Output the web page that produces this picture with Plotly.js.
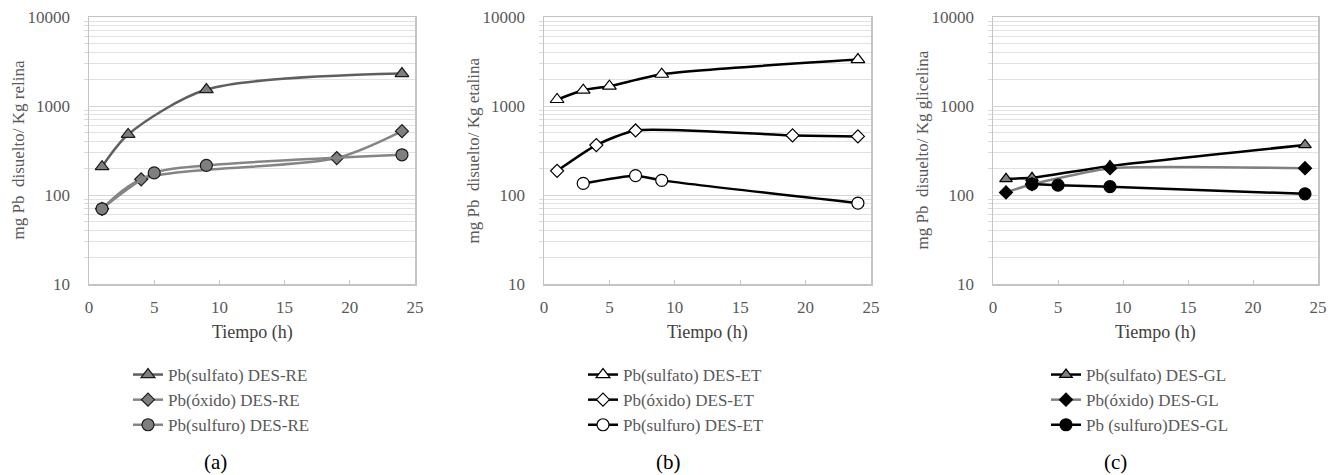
<!DOCTYPE html>
<html>
<head>
<meta charset="utf-8">
<script src="https://cdn.plot.ly/plotly-3.0.1.min.js"></script>
<style>html,body{margin:0;padding:0;background:#fff}#chart{width:1339px;height:475px}</style>
</head>
<body>
<div id="chart"></div>
<script>
// ---- data ----
// Panel (a) DES-RE
const reSulfatoX = [1, 3, 9, 24];
const reSulfatoY = [208, 479, 1531, 2314];
const reOxidoX = [1, 4, 19, 24];
const reOxidoY = [70, 150, 260, 522];
const reSulfuroX = [1, 5, 9, 24];
const reSulfuroY = [70, 177, 215, 283];
// Panel (b) DES-ET
const etSulfatoX = [1, 3, 5, 9, 24];
const etSulfatoY = [1183, 1506, 1669, 2275, 3325];
const etOxidoX = [1, 4, 7, 19, 24];
const etOxidoY = [187, 364, 531, 467, 455];
const etSulfuroX = [3, 7, 9, 24];
const etSulfuroY = [135, 165, 146, 81];
// Panel (c) DES-GL
const glSulfatoX = [1, 3, 9, 24];
const glSulfatoY = [152, 156, 212, 365];
const glOxidoX = [1, 3, 9, 24];
const glOxidoY = [107, 132, 200, 200];
const glSulfuroX = [3, 5, 9, 24];
const glSulfuroY = [133, 129, 124, 103];

const namesA = ['Pb(sulfato) DES-RE', 'Pb(óxido) DES-RE', 'Pb(sulfuro) DES-RE'];
const namesB = ['Pb(sulfato) DES-ET', 'Pb(óxido) DES-ET', 'Pb(sulfuro) DES-ET'];
const namesC = ['Pb(sulfato) DES-GL', 'Pb(óxido) DES-GL', 'Pb (sulfuro)DES-GL'];
const yTitles = ['mg Pb\u00a0 disuelto/ Kg relina', 'mg Pb\u00a0 disuelto/ Kg etalina', 'mg Pb\u00a0 disuelto/ Kg glicelina'];
const xTitle = 'Tiempo (h)';
const panelLabels = ['(a)', '(b)', '(c)'];
const yTickVals = [10, 100, 1000, 10000];
const yTickText = ['10', '100', '1000', '10000'];
const xTickVals = [0, 5, 10, 15, 20, 25];

// ---- styling ----
const FONT = 'Liberation Serif, Times New Roman, serif';
const W = 1339, H = 475;
const px2x = p => p / W;
const px2y = p => 1 - p / H;

function tr(x, y, name, xa, ya, leg, lineColor, sym, mFill, mLine, mSize, sm) {
  return {
    x: x, y: y, name: name, type: 'scatter', mode: 'lines+markers',
    xaxis: xa, yaxis: ya, legend: leg,
    line: {color: lineColor, width: 2.5, shape: 'spline', smoothing: sm},
    marker: {symbol: sym, color: mFill, size: mSize, line: {color: mLine, width: 1.2}}
  };
}

const data = [
  tr(reSulfatoX, reSulfatoY, namesA[0], 'x', 'y', 'legend', '#5f5f5f', 'triangle-up', '#7f7f7f', '#1a1a1a', 12, 0.8),
  tr(reOxidoX, reOxidoY, namesA[1], 'x', 'y', 'legend', '#858585', 'diamond', '#7f7f7f', '#1a1a1a', 10, 0.8),
  tr(reSulfuroX, reSulfuroY, namesA[2], 'x', 'y', 'legend', '#858585', 'circle', '#7f7f7f', '#1a1a1a', 12, 0.8),
  tr(etSulfatoX, etSulfatoY, namesB[0], 'x2', 'y2', 'legend2', '#000000', 'triangle-up', '#ffffff', '#000000', 12, 0.6),
  tr(etOxidoX, etOxidoY, namesB[1], 'x2', 'y2', 'legend2', '#000000', 'diamond', '#ffffff', '#000000', 10, 0.6),
  tr(etSulfuroX, etSulfuroY, namesB[2], 'x2', 'y2', 'legend2', '#000000', 'circle', '#ffffff', '#000000', 12, 0.6),
  tr(glSulfatoX, glSulfatoY, namesC[0], 'x3', 'y3', 'legend3', '#000000', 'triangle-up', '#7f7f7f', '#000000', 11, 0.5),
  tr(glOxidoX, glOxidoY, namesC[1], 'x3', 'y3', 'legend3', '#808080', 'diamond', '#000000', '#000000', 10, 0.5),
  tr(glSulfuroX, glSulfuroY, namesC[2], 'x3', 'y3', 'legend3', '#000000', 'circle', '#000000', '#000000', 12, 0.5)
];

const minorVals = [];
for (const d of [10, 100, 1000]) for (let k = 2; k <= 9; k++) minorVals.push(k * d);

const panels = [
  {l: 89, r: 415, ytx: 18, legX: 128, labX: 215},
  {l: 544, r: 871, ytx: 473, legX: 583, labX: 668},
  {l: 993, r: 1318, ytx: 922, legX: 1046, labX: 1115}
];
const TOP = 17, BOT = 284;

const layout = {
  width: W, height: H,
  margin: {l: 0, r: 0, t: 0, b: 0},
  paper_bgcolor: '#ffffff', plot_bgcolor: '#ffffff',
  font: {family: FONT, size: 17, color: '#595959'},
  annotations: []
};

panels.forEach((p, i) => {
  const sx = i === 0 ? '' : String(i + 1);
  layout['xaxis' + sx] = {
    domain: [px2x(p.l), px2x(p.r)], anchor: 'y' + sx,
    range: [0, 25], tickvals: xTickVals, showgrid: false, zeroline: false,
    showline: true, mirror: true, linecolor: '#c4c4c4', linewidth: 1.5,
    ticks: 'inside', ticklen: 4, tickcolor: '#c4c4c4', tickwidth: 1,
    ticklabelstandoff: 7,
    tickfont: {family: FONT, size: 17, color: '#595959'}, fixedrange: true
  };
  layout['yaxis' + sx] = {
    domain: [px2y(BOT), px2y(TOP)], anchor: 'x' + sx,
    type: 'log', range: [1, 4], tickvals: yTickVals, ticktext: yTickText,
    showgrid: true, gridcolor: '#d4d4d4', gridwidth: 1, zeroline: false,
    showline: true, mirror: true, linecolor: '#c4c4c4', linewidth: 1.5,
    ticks: '', ticklabelstandoff: 14,
    minor: {tickvals: minorVals, showgrid: true, gridcolor: '#e2e2e2', gridwidth: 1,
            ticks: 'outside', ticklen: 4, tickcolor: '#dadada'},
    tickfont: {family: FONT, size: 17, color: '#595959'}, fixedrange: true
  };
  const lg = i === 0 ? 'legend' : 'legend' + (i + 1);
  layout[lg] = {
    x: px2x(p.legX), xanchor: 'left', y: px2y(357), yanchor: 'top',
    bgcolor: 'rgba(0,0,0,0)', borderwidth: 0,
    font: {family: FONT, size: 17, color: '#595959'},
    itemclick: false, itemdoubleclick: false, tracegroupgap: 0
  };
  layout.annotations.push({
    xref: 'paper', yref: 'paper', x: px2x(p.ytx), y: px2y((TOP + BOT) / 2),
    text: yTitles[i], textangle: -90, showarrow: false,
    xanchor: 'center', yanchor: 'middle',
    font: {family: FONT, size: 17, color: '#595959'}
  });
  layout.annotations.push({
    xref: 'paper', yref: 'paper', x: px2x((p.l + p.r) / 2), y: px2y(332),
    text: xTitle, showarrow: false, xanchor: 'center', yanchor: 'middle',
    font: {family: FONT, size: 18, color: '#404040'}
  });
  layout.annotations.push({
    xref: 'paper', yref: 'paper', x: px2x(p.labX), y: px2y(462),
    text: panelLabels[i], showarrow: false, xanchor: 'center', yanchor: 'middle',
    font: {family: FONT, size: 21, color: '#000000'}
  });
});

Plotly.newPlot('chart', data, layout, {displayModeBar: false, staticPlot: true});
</script>
</body>
</html>
